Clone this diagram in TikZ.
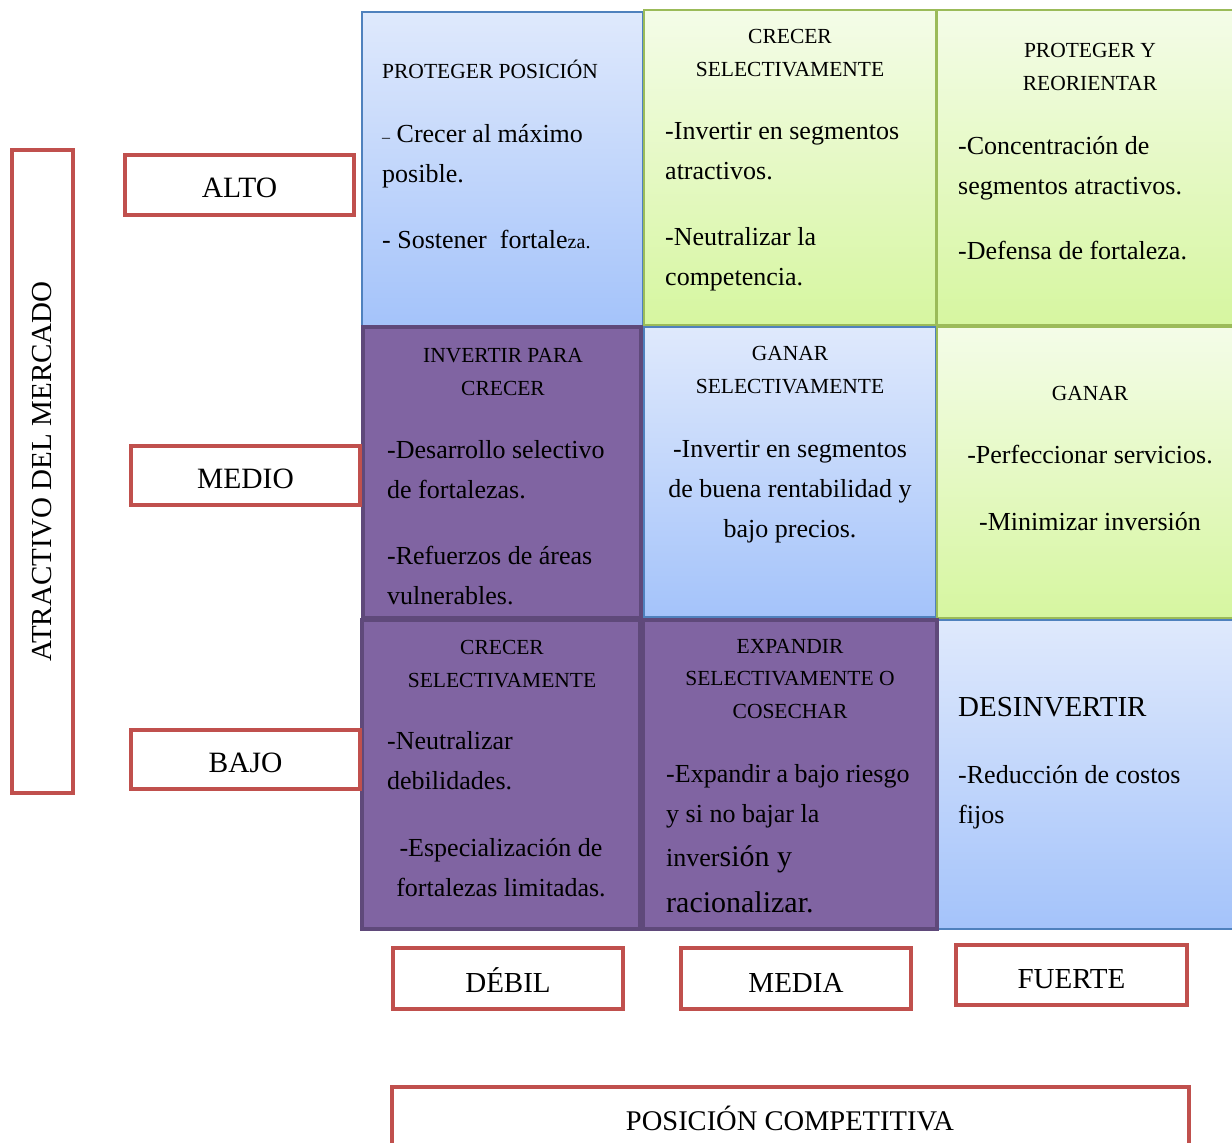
\documentclass[tikz,border=0pt]{standalone}
\usepackage{fontspec}
\setmainfont{Liberation Serif}
\definecolor{blueTop}{RGB}{223,233,252}
\definecolor{blueBot}{RGB}{164,195,250}
\definecolor{blueLine}{RGB}{79,129,189}
\definecolor{greenTop}{RGB}{244,252,232}
\definecolor{greenBot}{RGB}{214,246,160}
\definecolor{greenLine}{RGB}{155,187,89}
\definecolor{purp}{RGB}{128,100,162}
\definecolor{purpLine}{RGB}{95,73,122}
\definecolor{redLine}{RGB}{192,80,77}
\begin{document}
\begin{tikzpicture}[x=1pt,y=-1pt,
  cell/.style={inner sep=0pt, outer sep=0pt},
  bluecell/.style={cell, draw=blueLine, line width=1.5pt, top color=blueTop, bottom color=blueBot},
  greencell/.style={cell, draw=greenLine, line width=2pt, top color=greenTop, bottom color=greenBot},
  purplecell/.style={cell, draw=purpLine, line width=4pt, fill=purp},
  lbl/.style={draw=redLine, line width=4pt, fill=white, inner sep=0pt, font=\fontsize{29.5}{30}\selectfont},
  hd/.style={font=\fontsize{21.5}{32.5}\selectfont, anchor=base, inner sep=0pt, align=center},
  bd/.style={font=\fontsize{26}{40}\selectfont, anchor=base west, inner sep=0pt, align=left},
  bdc/.style={bd, anchor=base, align=center}]
\useasboundingbox (0,0) rectangle (1232,1143);

% ---- cells, top row
\node[bluecell, minimum width=281pt, minimum height=315pt] (c11) at (502.5,169.5) {};
\node[greencell, minimum width=292pt, minimum height=315pt] (c12) at (790,167.5) {};
\node[greencell, minimum width=296pt, minimum height=315pt] (c13) at (1085,167.5) {};
% middle row
\node[bluecell, minimum width=292pt, minimum height=290pt] (c22) at (790,472) {};
\node[greencell, minimum width=296pt, minimum height=291pt] (c23) at (1085,472.5) {};
\node[purplecell, minimum width=278pt, minimum height=291pt] (c21) at (502,472.5) {};
% bottom row
\node[bluecell, minimum width=296pt, minimum height=309pt] (c33) at (1085,774.5) {};
\node[purplecell, minimum width=278pt, minimum height=309pt] (c31) at (501,774.5) {};
\node[purplecell, minimum width=294pt, minimum height=309pt] (c32) at (790,774.5) {};

% ---- texts (multi-line nodes are placed by the baseline of their last line)
% cell 1,1
\node[hd, anchor=base west, align=left] (t11h) at (382,78) {PROTEGER POSICIÓN};
\node[bd] (t11b) at (382,248) {{\fontsize{16}{16}\selectfont –} Crecer al máximo\\posible.\\[26pt]- Sostener\ \ fortale{\fontsize{20}{20}\selectfont za.}};
% cell 1,2
\node[hd] (t12h) at (790,76) {CRECER\\SELECTIVAMENTE};
\node[bd] (t12b) at (665,285) {-Invertir en segmentos\\atractivos.\\[26pt]-Neutralizar la\\competencia.};
% cell 1,3
\node[hd] (t13h) at (1090,90) {PROTEGER Y\\REORIENTAR};
\node[bd] (t13b) at (958,259) {-Concentración de\\segmentos atractivos.\\[25pt]-Defensa de fortaleza.};
% cell 2,1
\node[hd] (t21h) at (503,395) {INVERTIR PARA\\CRECER};
\node[bd] (t21b) at (387,604) {-Desarrollo selectivo\\de fortalezas.\\[26pt]-Refuerzos de áreas\\vulnerables.};
% cell 2,2
\node[hd] (t22h) at (790,393) {GANAR\\SELECTIVAMENTE};
\node[bdc] (t22b) at (790,537) {-Invertir en segmentos\\de buena rentabilidad y\\bajo precios.};
% cell 2,3
\node[hd] (t23h) at (1090,400) {GANAR};
\node[bdc] (t23b) at (1090,530) {-Perfeccionar servicios.\\[27pt]-Minimizar inversión};
% cell 3,1
\node[hd] (t31h) at (502,687) {CRECER\\SELECTIVAMENTE};
\node[bd] (t31b) at (387,789) {-Neutralizar\\debilidades.};
\node[bdc] (t31c) at (501,896) {-Especialización de\\fortalezas limitadas.};
% cell 3,2
\node[hd] (t32h) at (790,718) {EXPANDIR\\SELECTIVAMENTE O\\COSECHAR};
\node[bd] (t32b) at (666,822) {-Expandir a bajo riesgo\\y si no bajar la};
\node[bd] (t32c) at (666,866) {inver{\fontsize{30}{30}\selectfont sión y}};
\node[bd, font=\fontsize{30}{30}\selectfont] (t32d) at (666,912) {racionalizar.};
% cell 3,3
\node[bd, font=\fontsize{29}{30}\selectfont] (t33h) at (958,716) {DESINVERTIR};
\node[bd] (t33b) at (958,823) {-Reducción de costos\\fijos};

% ---- axis labels
\node[lbl, minimum width=61pt, minimum height=643pt] (yaxis) at (42.5,471.5) {};
\node[rotate=90, inner sep=0pt, font=\fontsize{29}{30}\selectfont] (yaxist) at (yaxis.center) {ATRACTIVO DEL MERCADO};
\node[lbl, minimum width=229pt, minimum height=60pt] (alto) at (239.5,185) {};
\node[inner sep=0pt, anchor=base, font=\fontsize{29.5}{30}\selectfont] (altot) at (239.5,197) {ALTO};
\node[lbl, minimum width=229pt, minimum height=59pt] (medio) at (245.5,475.5) {};
\node[inner sep=0pt, anchor=base, font=\fontsize{29.5}{30}\selectfont] (mediot) at (245.5,488) {MEDIO};
\node[lbl, minimum width=229pt, minimum height=59pt] (bajo) at (245.5,759.5) {};
\node[inner sep=0pt, anchor=base, font=\fontsize{29.5}{30}\selectfont] (bajot) at (245.5,772) {BAJO};
\node[lbl, minimum width=230pt, minimum height=61pt] (debil) at (508,978.5) {};
\node[inner sep=0pt, anchor=base, font=\fontsize{29}{30}\selectfont] (debilt) at (508,992) {DÉBIL};
\node[lbl, minimum width=230pt, minimum height=61pt] (media) at (796,978.5) {};
\node[inner sep=0pt, anchor=base, font=\fontsize{29}{30}\selectfont] (mediat) at (796,992) {MEDIA};
\node[lbl, minimum width=231pt, minimum height=60pt] (fuerte) at (1071.5,975) {};
\node[inner sep=0pt, anchor=base, font=\fontsize{29}{30}\selectfont] (fuertet) at (1071.5,988) {FUERTE};
\node[lbl, minimum width=797pt, minimum height=70pt] (xaxis) at (790.5,1122) {};
\node[inner sep=0pt, anchor=base, font=\fontsize{28.5}{30}\selectfont] (xaxist) at (790,1130) {POSICIÓN COMPETITIVA};
\end{tikzpicture}
\end{document}
